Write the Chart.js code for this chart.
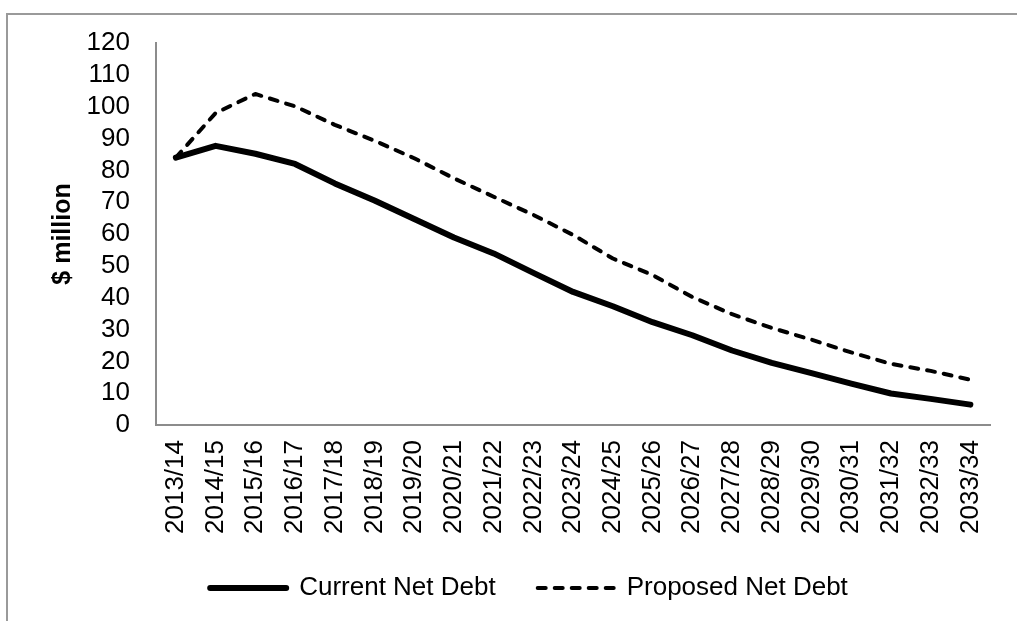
<!DOCTYPE html>
<html>
<head>
<meta charset="utf-8">
<title>Net Debt</title>
<script src="https://cdn.jsdelivr.net/npm/chart.js@4.4.1/dist/chart.umd.min.js"></script>
<style>
  body { margin: 0; background: #fff; overflow: hidden; }
  #frame { position: absolute; left: 6px; top: 13px; width: 1100px; height: 700px; border: 2px solid #9a9a9a; }
  #wrap { position: absolute; left: 0; top: 0; width: 1017px; height: 621px; }
</style>
</head>
<body>
<div id="frame"></div>
<div id="wrap"><canvas id="debt-chart" width="1017" height="621"></canvas></div>

<script>
// financial years on the x axis
const years = ['2013/14', '2014/15', '2015/16', '2016/17', '2017/18', '2018/19', '2019/20',
  '2020/21', '2021/22', '2022/23', '2023/24', '2024/25', '2025/26', '2026/27', '2027/28',
  '2028/29', '2029/30', '2030/31', '2031/32', '2032/33', '2033/34'];

// $ million
const currentNetDebt = [84.0, 87.7, 85.2, 82.0, 75.9, 70.5, 64.7, 58.9, 53.9, 47.8, 41.8,
  37.3, 32.3, 28.2, 23.4, 19.5, 16.3, 13.0, 9.9, 8.2, 6.4];
const proposedNetDebt = [84.0, 98.0, 104.0, 100.1, 94.3, 89.3, 83.8, 77.5, 71.7, 66.0, 59.7,
  52.3, 47.1, 40.2, 34.8, 30.5, 26.8, 22.8, 19.2, 17.0, 14.2];

const yMin = 0;
const yMax = 120;
const yStep = 10;

const fontFamily = "'Liberation Sans', Arial, sans-serif";
const axisGrey = '#8c8c8c';

// nudge the bottom legend a little to the right
const legendShift = {
  id: 'legendShift',
  afterLayout(chart) {
    if (chart.legend) {
      chart.legend.left += 29;
      chart.legend.right += 29;
    }
  }
};

// legend keys as line samples using each dataset's own width and dash
function lineLabels(chart) {
  const items = Chart.defaults.plugins.legend.labels.generateLabels(chart);
  items.forEach(item => {
    const ds = chart.data.datasets[item.datasetIndex];
    item.lineWidth = ds.borderWidth;
    item.lineDash = ds.borderDash || [];
    item.lineCap = ds.borderCapStyle;
    item.strokeStyle = ds.borderColor;
    item.pointStyle = 'line';
  });
  return items;
}

Chart.defaults.font.family = fontFamily;
Chart.defaults.color = '#000';

new Chart(document.getElementById('debt-chart'), {
  type: 'line',
  data: {
    labels: years,
    datasets: [{
      label: 'Current Net Debt',
      data: currentNetDebt,
      borderColor: '#000',
      backgroundColor: '#000',
      borderWidth: 6,
      borderJoinStyle: 'round',
      borderCapStyle: 'round',
      pointRadius: 0,
      tension: 0
    }, {
      label: 'Proposed Net Debt',
      data: proposedNetDebt,
      borderColor: '#000',
      backgroundColor: '#000',
      borderWidth: 4,
      borderDash: [8, 9],
      borderJoinStyle: 'round',
      borderCapStyle: 'round',
      pointRadius: 0,
      tension: 0
    }]
  },
  options: {
    responsive: false,
    animation: false,
    layout: {
      padding: { top: 43, right: 17, bottom: 10, left: 0 }
    },
    plugins: {
      tooltip: { enabled: false },
      legend: {
        position: 'bottom',
        labels: {
          usePointStyle: true,
          pointStyle: 'line',
          pointStyleWidth: 76,
          boxWidth: 76,
          boxHeight: 10,
          padding: 42,
          font: { size: 26 },
          color: '#000',
          generateLabels: lineLabels
        }
      }
    },
    scales: {
      x: {
        offset: true,
        grid: { display: false, drawTicks: false },
        border: { color: axisGrey, width: 2 },
        ticks: {
          autoSkip: false,
          minRotation: 90,
          maxRotation: 90,
          padding: 15,
          font: { size: 26 }
        },
        afterFit(scale) {
          scale.height = 108;
        }
      },
      y: {
        min: yMin,
        max: yMax,
        grid: { display: false, drawTicks: false },
        border: { color: axisGrey, width: 2 },
        ticks: {
          autoSkip: false,
          stepSize: yStep,
          padding: 26,
          font: { size: 26 }
        },
        title: {
          display: true,
          text: '$ million',
          font: { size: 25, weight: 'bold' },
          padding: { top: 48, bottom: 0 }
        },
        afterFit(scale) {
          scale.width = 156;
        }
      }
    }
  },
  plugins: [legendShift]
});
</script>
</body>
</html>
